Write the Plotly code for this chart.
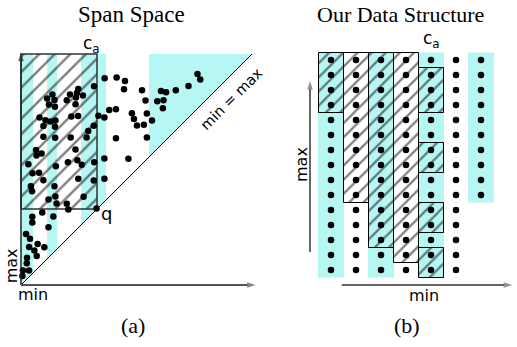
import plotly.graph_objects as go

# ---------------- Panel (a): span space (min, max) of cells ----------------
cell_min = [36.2, 41.4, 45.0, 44.6, 52.4, 60.6, 62.8, 67.0, 72.5, 76.4, 77.6, 53.9, 59.0, 61.7, 61.4,
            56.7, 54.5, 48.0, 48.9, 50.2, 53.2, 38.2, 41.1, 33.5, 36.1, 41.1, 54.5, 36.1, 46.5, 36.1,
            31.6, 24.8, 24.2, 21.2, 19.8, 23.8, 26.8, 13.6, 11.3, 14.5, 12.1, 14.7, 23.6, 8.0, 10.6,
            12.8, 14.9, 9.7, 14.7, 21.8, 24.7, 31.5, 29.1, 9.7, 14.8, 21.5, 28.4, 6.5, 8.9, 6.7,
            23.6, 3.2, 15.1, 20.3, 24.4, 26.3, 31.7, 5.0, 7.8, 9.7, 24.8, 31.5, 4.3, 4.8, 14.5,
            14.9, 11.9, 27.1, 15.4, 19.8, 20.5, 9.2, 32.7, 4.9, 4.9, 14.0, 11.9, 2.2, 3.9, 7.2,
            10.1, 3.5, 5.8, 6.8, 2.6, 2.5, 0.8, 3.5, 0.6]
cell_max = [89.5, 89.8, 88.3, 84.7, 84.3, 84.0, 83.4, 84.3, 86.2, 91.3, 89.0, 79.9, 79.5, 80.0, 76.5,
            71.2, 74.2, 74.3, 71.9, 69.0, 69.4, 75.8, 76.1, 73.3, 72.5, 63.5, 63.8, 54.8, 54.6, 46.0,
            86.0, 84.9, 83.1, 82.5, 80.0, 81.2, 82.0, 82.5, 80.7, 80.1, 78.1, 77.2, 78.2, 72.5, 71.3,
            70.8, 71.2, 68.8, 68.5, 72.9, 73.2, 68.9, 66.7, 64.2, 63.7, 63.9, 63.8, 58.4, 56.9, 56.1,
            58.7, 52.3, 51.4, 53.1, 54.0, 52.1, 53.1, 48.4, 48.6, 45.3, 46.0, 45.2, 42.7, 40.6, 42.7,
            38.3, 37.0, 38.2, 35.3, 35.2, 32.7, 31.4, 33.1, 29.5, 27.1, 29.6, 25.0, 22.1, 20.0, 17.7,
            16.3, 16.4, 14.9, 12.6, 11.8, 9.4, 6.3, 6.3, 3.9]
band_edges = [0.0, 5.2, 11.3, 15.6, 26.0, 36.8, 55.4, 100.0]   # min-value bins (alternately shaded)
value_top = 100.0
c_a = 32.9

# ---------------- Panel (b): our data structure ----------------
n_cols = 7
col_row_lo = [0, 0, 0, 0, 0, 0, 5]
col_row_hi = [14, 14, 14, 14, 14, 14, 14]
cyan_cols = [0, 2, 4, 6]
box_col = [0, 1, 2, 3, 4, 4, 4, 4]
box_lo = [11, 5, 2, 1, 11, 7, 3, 0]
box_hi = [14, 14, 14, 14, 13, 8, 4, 1]
ca_col = 4

CYAN = "#b6f6f3"
SERIF = "Liberation Serif, Times New Roman, serif"
SANS = "DejaVu Sans, Verdana, sans-serif"

fig = go.Figure()

# shaded bands in span space (each clipped by the min = max diagonal)
for i in range(0, len(band_edges) - 1, 2):
    x0, x1 = band_edges[i], band_edges[i + 1]
    fig.add_trace(go.Scatter(x=[x0, x1, x1, x0, x0], y=[x0, x1, value_top, value_top, x0],
                             mode="lines", fill="toself", fillcolor=CYAN, line=dict(width=0),
                             hoverinfo="skip", xaxis="x", yaxis="y"))

# hatched query rectangle
fig.add_trace(go.Scatter(x=[0, c_a, c_a, 0, 0], y=[c_a, c_a, value_top, value_top, c_a],
                         mode="lines", fill="toself", fillcolor="rgba(0,0,0,0)",
                         fillpattern=dict(shape="/", size=11, solidity=0.22, fgcolor="black",
                                          bgcolor="rgba(0,0,0,0)"),
                         line=dict(color="#333333", width=1.5), hoverinfo="skip",
                         xaxis="x", yaxis="y"))

# min = max diagonal
fig.add_trace(go.Scatter(x=[0, value_top], y=[0, value_top], mode="lines",
                         line=dict(color="black", width=1), hoverinfo="skip", xaxis="x", yaxis="y"))

# cells
fig.add_trace(go.Scatter(x=cell_min, y=cell_max, mode="markers",
                         marker=dict(color="black", size=6.5), xaxis="x", yaxis="y"))

# ---- panel (b) ----
fig.add_trace(go.Bar(x=cyan_cols,
                     base=[col_row_lo[c] - 0.5 for c in cyan_cols],
                     y=[col_row_hi[c] - col_row_lo[c] + 1 for c in cyan_cols],
                     width=1.04, marker=dict(color=CYAN, line=dict(width=0)),
                     hoverinfo="skip", xaxis="x2", yaxis="y2"))
fig.add_trace(go.Bar(x=box_col,
                     base=[lo - 0.5 for lo in box_lo],
                     y=[hi - lo + 1 for lo, hi in zip(box_lo, box_hi)],
                     width=1.0,
                     marker=dict(color="rgba(0,0,0,0)", line=dict(color="black", width=1),
                                 pattern=dict(shape="/", size=10, solidity=0.22, fgcolor="black",
                                              bgcolor="rgba(0,0,0,0)")),
                     hoverinfo="skip", xaxis="x2", yaxis="y2"))
dot_x, dot_y = [], []
for c in range(n_cols):
    for r in range(col_row_lo[c], col_row_hi[c] + 1):
        dot_x.append(c)
        dot_y.append(r)
fig.add_trace(go.Scatter(x=dot_x, y=dot_y, mode="markers", marker=dict(color="black", size=6.5),
                         xaxis="x2", yaxis="y2"))

# axis arrows (line + arrow-head marker at the tip)
def arrow(xs, ys, xa, ya, color, width):
    fig.add_trace(go.Scatter(x=xs, y=ys, mode="lines+markers", hoverinfo="skip",
                             line=dict(color=color, width=width),
                             marker=dict(symbol="arrow", angleref="previous", size=[0, 9],
                                         color=color, line=dict(width=0)),
                             xaxis=xa, yaxis=ya))

arrow([0, 0], [0, 100.6], "x", "y", "#222222", 1.5)
arrow([0, 101.6], [0, 0], "x", "y", "#555555", 2)
arrow([-0.84, -0.84], [1.2, 12.6], "x2", "y2", "#666666", 2)
arrow([0.43, 7.25], [-1.0, -1.0], "x2", "y2", "#666666", 2)

W, H = 517, 347
ann = []
def paper_text(text, px, py, size, family=SERIF):
    ann.append(dict(text=text, x=px / W, y=1 - py / H, xref="paper", yref="paper",
                    showarrow=False, font=dict(family=family, size=size, color="black"),
                    xanchor="center", yanchor="middle"))

paper_text("Span Space", 131, 14, 23)
paper_text("Our Data Structure", 400, 14, 22)
paper_text("(a)", 133, 325, 22)
paper_text("(b)", 407, 325, 22)

def data_text(text, x, y, xr, yr, size, angle=0):
    ann.append(dict(text=text, x=x, y=y, xref=xr, yref=yr, showarrow=False,
                    font=dict(family=SANS, size=size, color="black"), textangle=angle,
                    xanchor="center", yanchor="middle"))

data_text("c<sub>a</sub>", c_a - 2.2, 104.0, "x", "y", 17)
data_text("q", c_a + 4.3, 30.8, "x", "y", 18)
data_text("min = max", 91.0, 80.6, "x", "y", 14.5, -45)
data_text("max", -4.0, 8.4, "x", "y", 16, -90)
data_text("min", 5.2, -4.0, "x", "y", 16)
data_text("c<sub>a</sub>", ca_col, 15.4, "x2", "y2", 17)
data_text("max", -1.2, 7.0, "x2", "y2", 16, -90)
data_text("min", 3.72, -1.7, "x2", "y2", 16)

fig.update_layout(
    width=W, height=H, margin=dict(l=0, r=0, t=0, b=0),
    paper_bgcolor="white", plot_bgcolor="white", showlegend=False, barmode="overlay",
    xaxis=dict(domain=[0, 1], range=[-21 / 2.31, (W - 21) / 2.31], visible=False),
    yaxis=dict(domain=[0, 1], range=[-(H - 285) / 2.31, 285 / 2.31], visible=False),
    xaxis2=dict(overlaying="x", range=[-331 / 25, (W - 331) / 25], visible=False),
    yaxis2=dict(overlaying="y", range=[-(H - 270) / 15, 270 / 15], visible=False),
    annotations=ann,
)

fig.write_html("out.html", config={"displayModeBar": False},
               post_script="document.body.style.margin='0px';")
